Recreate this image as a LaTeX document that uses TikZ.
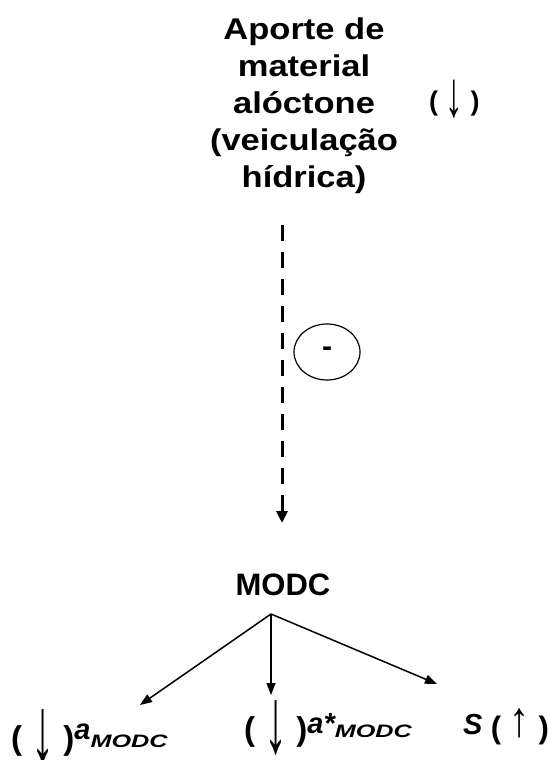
\documentclass[tikz,border=0pt]{standalone}
\usepackage{fontspec}
\setmainfont{Liberation Sans}
\newfontfamily\widefont[FakeStretch=1.15]{Liberation Sans}
\newfontfamily\subfont[FakeStretch=1.4]{Liberation Sans}
\usetikzlibrary{arrows.meta,positioning,shapes.geometric}
\newcommand{\dnarr}{\raisebox{-12pt}{\scalebox{1.4}[2.8]{↓}}}
\newcommand{\topdnarr}{\raisebox{-6pt}{\scalebox{1.3}[2.4]{↓}}}
\newcommand{\uparr}{\raisebox{2pt}{\scalebox{1.3}[1.6]{↑}}}
\newcommand{\modcsub}[1]{{\subfont\bfseries\itshape\fontsize{18}{18}\selectfont #1}}
\tikzset{
  lbl/.style={inner sep=0pt, outer sep=0pt, anchor=base west},
  toptext/.style={align=center, inner sep=0pt, anchor=base,
    font=\widefont\bfseries\fontsize{30}{37}\selectfont},
  trend/.style={lbl, font=\bfseries\fontsize{33}{33}\selectfont},
  negell/.style={draw=black, line width=1.2pt, ellipse, minimum width=66pt,
    minimum height=56pt, inner sep=0pt, font=\bfseries\fontsize{30}{30}\selectfont},
  darr/.style={-{Triangle[length=12pt,width=11pt]}, line width=3pt, dash pattern=on 16pt off 11pt},
  arr/.style={-{Triangle[length=12pt,width=9pt]}, line width=1.5pt}
}

\begin{document}
\begin{tikzpicture}[x=1pt, y=-1pt]
  \useasboundingbox (0,0) rectangle (548,760);

  \node[toptext] (aporte) at (304,187) {Aporte de\\material\\alóctone\\(veiculação\\hídrica)};
  \node[lbl, font=\bfseries\fontsize{27}{27}\selectfont] (aportetrend) at (429,110) {( \topdnarr\ )};

  \coordinate (dstart) at (282,225);
  \coordinate (dend) at (282,523);
  \draw[darr] (dstart) -- (dend);
  \node[negell] (neg) at (327,352) {-};

  \node[lbl, anchor=base, font=\bfseries\fontsize{31}{31}\selectfont] (modc) at (283,595) {MODC};
  \coordinate (fork) at (271,614);
  \coordinate (tipa) at (140,705);
  \coordinate (tipb) at (271,695);
  \coordinate (tipc) at (437,684);
  \draw[arr] (fork) -- (tipa);
  \draw[arr] (fork) -- (tipb);
  \draw[arr] (fork) -- (tipc);

  % labels under the arrows
  \node[trend] (amodc) at (11,749) {( \dnarr\ )\raisebox{10pt}{\fontsize{29}{29}\selectfont\itshape a}\raisebox{2pt}{\modcsub{MODC}}};
  \node[trend] (astar) at (244,740) {( \dnarr\ )\raisebox{7pt}{\fontsize{29}{29}\selectfont\itshape a*}\raisebox{3pt}{\modcsub{MODC}}};
  \node[trend, font=\bfseries\fontsize{31}{31}\selectfont] (sflux) at (463,738) {\raisebox{4pt}{\fontsize{29}{29}\selectfont\itshape S} ( \uparr\ )};
\end{tikzpicture}
\end{document}
